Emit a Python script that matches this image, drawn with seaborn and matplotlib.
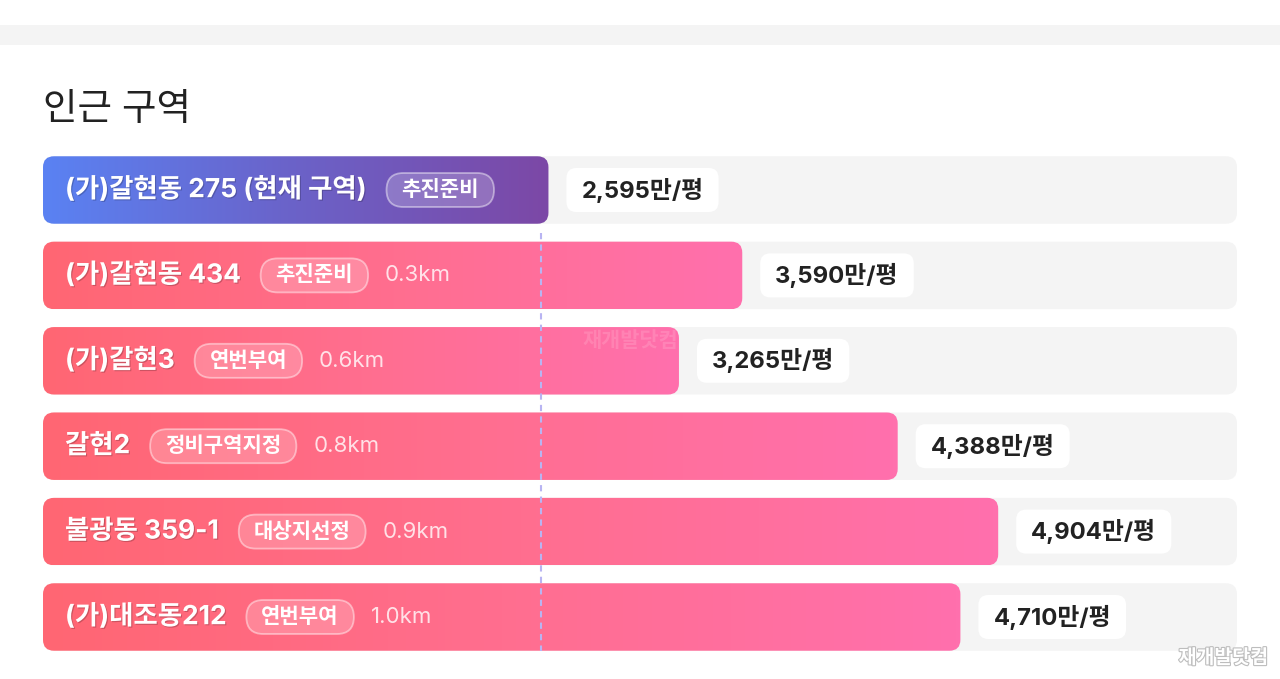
import matplotlib
matplotlib.use("Agg")
import numpy as np
import pandas as pd
import matplotlib.pyplot as plt
import seaborn as sns
import matplotlib.patheffects as pe
from matplotlib.patches import FancyBboxPatch, Rectangle
from matplotlib.colors import LinearSegmentedColormap

# === Data ===
zones = ["(가)갈현동 275 (현재 구역)", "(가)갈현동 434", "(가)갈현3", "갈현2", "불광동 359-1", "(가)대조동212"]
prices = [2595, 3590, 3265, 4388, 4904, 4710]
stages = ["추진준비", "추진준비", "연번부여", "정비구역지정", "대상지선정", "연번부여"]
distances = ["", "0.3km", "0.6km", "0.8km", "0.9km", "1.0km"]
price_labels = [f"{p:,}만/평" for p in prices]
ref_price = 2555
x_max = 6130
title = "인근 구역"

# === Style ===
sns.set_theme(style="white")
plt.rcParams["font.family"] = ["Inter", "Noto Sans CJK KR", "DejaVu Sans"]

W, H, DPI = 1280, 679, 100
fig = plt.figure(figsize=(W / DPI, H / DPI), dpi=DPI)
fig.patch.set_facecolor("white")

# top grey separator band
fig.patches.append(Rectangle((0, 1 - 45 / H), 1, 20 / H, transform=fig.transFigure,
                             facecolor="#f4f4f4", edgecolor="none"))
fig.text(43 / W, 1 - 110 / H, title, fontsize=27, color="#222222", va="center", weight="medium")

ax = fig.add_axes([43 / W, 1 - 659.7 / H, (1237 - 43) / W, (659.7 - 147.3) / H])
df = pd.DataFrame({"zone": zones, "price": prices, "track": x_max})
sns.barplot(data=df, y="zone", x="track", orient="h", color="#f4f4f4", saturation=1, width=0.79, ax=ax)
sns.barplot(data=df, y="zone", x="price", orient="h", color="#ff6b81", saturation=1, width=0.79, ax=ax)
n = len(zones)
ax.set_xlim(0, x_max)
ax.set_ylim(n - 0.5, -0.5)
ax.axis("off")

track_bars = list(ax.patches[:n])
value_bars = list(ax.patches[n:])

# data units per pixel
p0 = ax.transData.transform((0, 0))
p1 = ax.transData.transform((1, 1))
ux = 1 / abs(p1[0] - p0[0])
uy = 1 / abs(p1[1] - p0[1])


def rbox(x, y, w, h, r_px, **kw):
    box = FancyBboxPatch((x, y), w, h, boxstyle=f"round,pad=0,rounding_size={r_px * ux}",
                         mutation_aspect=uy / ux, **kw)
    ax.add_patch(box)
    return box


def px_to_x(px):
    return ax.transData.inverted().transform((px, 0))[0]


cur_cmap = LinearSegmentedColormap.from_list("cur", ["#5a82f3", "#6b62c8", "#7c48a6"])
pink_cmap = LinearSegmentedColormap.from_list("pink", ["#ff6673", "#ff6e8f", "#ff70ad"])
grad = np.linspace(0, 1, 256).reshape(1, -1)

for tb in track_bars:
    rbox(tb.get_x(), tb.get_y(), tb.get_width(), tb.get_height(), 11,
         facecolor="#f4f4f4", edgecolor="none", zorder=1)
    tb.set_visible(False)

for i, vb in enumerate(value_bars):
    x, y, w, h = vb.get_x(), vb.get_y(), vb.get_width(), vb.get_height()
    box = rbox(x, y, w, h, 11, facecolor="none", edgecolor="none", zorder=2)
    im = ax.imshow(grad, extent=(x, x + w, y + h, y), cmap=cur_cmap if i == 0 else pink_cmap,
                   aspect="auto", zorder=2, interpolation="bilinear")
    im.set_clip_path(box)
    vb.set_visible(False)

# reference dashed line (current zone level)
ax.vlines(ref_price, 0.5, n - 0.6, colors="#b8b4f2", linestyles=(0, (3, 2.5)), linewidth=1.5, zorder=4)

# faint watermark in the middle
ax.text(px_to_x(583), 1.77, "재개발닷컴", fontsize=15, color="white", alpha=0.14,
        va="center", ha="left", weight="bold", zorder=3)

shadow = [pe.withSimplePatchShadow(offset=(0.8, -0.8), shadow_rgbFace="black", alpha=0.2)]
renderer = fig.canvas.get_renderer()

for i, vb in enumerate(value_bars):
    x0, w = vb.get_x(), vb.get_width()
    lab = ax.text(x0 + 22 * ux, i, zones[i], fontsize=19, color="white", weight="bold",
                  va="center", ha="left", zorder=5, path_effects=shadow)
    bb = lab.get_window_extent(renderer)
    bx = bb.x1 + 20 + 15
    st = ax.text(px_to_x(bx), i, stages[i], fontsize=15.2, color="white", weight="bold",
                 va="center", ha="left", zorder=6)
    sb = st.get_window_extent(renderer)
    pw = sb.width + 30
    rbox(px_to_x(sb.x0 - 15), i - 17 * uy, pw * ux, 34 * uy, 17,
         facecolor=(1, 1, 1, 0.2), edgecolor=(1, 1, 1, 0.45), linewidth=1.3, zorder=5)
    if distances[i]:
        ax.text(px_to_x(sb.x1 + 15 + 17), i, distances[i], fontsize=16, color="white",
                alpha=0.8, va="center", ha="left", zorder=5)

    # price label box
    vx = x0 + w + 18 * ux
    pt = ax.text(vx + 15 * ux, i, price_labels[i], fontsize=17.2, color="#222222", weight="bold",
                 va="center", ha="left", zorder=7)
    pb = pt.get_window_extent(renderer)
    rbox(vx, i - 22 * uy, (pb.width + 30) * ux, 44 * uy, 10,
         facecolor="white", edgecolor="none", zorder=6)

# corner watermark
fig.text(1268 / W, 1 - 658 / H, "재개발닷컴", fontsize=14, color="white", ha="right", va="center",
         weight="bold", path_effects=[pe.withStroke(linewidth=1.6, foreground="#bdbdbd")])

ax.set_xlim(0, x_max)
ax.set_ylim(n - 0.5, -0.5)
fig.savefig("out.png", dpi=DPI, facecolor="white")
